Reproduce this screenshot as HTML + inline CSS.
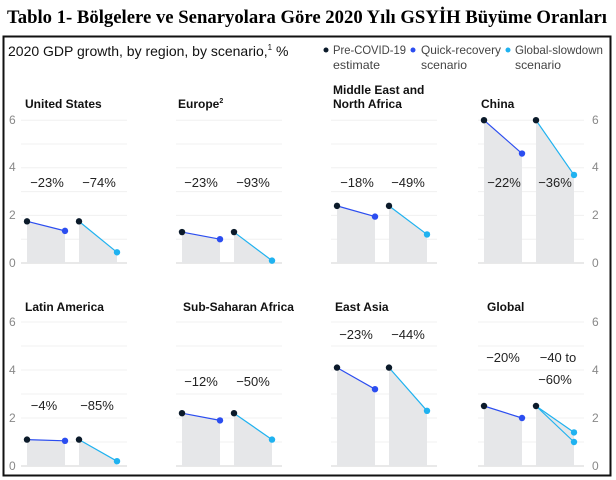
<!DOCTYPE html>
<html><head><meta charset="utf-8"><style>
body{margin:0;background:#fff;width:616px;height:480px;overflow:hidden}
svg{display:block}
.t{font-family:"Liberation Sans",sans-serif;font-size:12px;fill:#111;font-weight:bold}
.p{font-family:"Liberation Sans",sans-serif;font-size:13px;fill:#222}
.a{font-family:"Liberation Sans",sans-serif;font-size:12px;fill:#888}
.l{font-family:"Liberation Sans",sans-serif;font-size:12px;fill:#444}
</style></head><body>
<svg id="s" width="616" height="480" xmlns="http://www.w3.org/2000/svg">
<text x="7" y="23" textLength="600" lengthAdjust="spacingAndGlyphs" style="font-family:'Liberation Serif',serif;font-size:18.5px;font-weight:bold" fill="#000">Tablo 1- Bölgelere ve Senaryolara Göre 2020 Yılı GSYİH Büyüme Oranları</text>
<rect x="3.5" y="36.5" width="607" height="439" fill="none" stroke="#111" stroke-width="2"/>
<g id="g"></g>
<text x="8" y="56" style="font-family:'Liberation Sans',sans-serif;font-size:14px" fill="#111">2020 GDP growth, by region, by scenario,<tspan font-size="8" dy="-6">1</tspan><tspan dy="6"> %</tspan></text>
<circle cx="326" cy="50" r="2.5" fill="#0b1a2a"/><text class="l" x="333" y="54" textLength="73" lengthAdjust="spacingAndGlyphs">Pre-COVID-19</text><text class="l" x="333" y="69" textLength="47" lengthAdjust="spacingAndGlyphs">estimate</text>
<circle cx="413" cy="50" r="2.5" fill="#2b4df0"/><text class="l" x="421" y="54" textLength="80" lengthAdjust="spacingAndGlyphs">Quick-recovery</text><text class="l" x="421" y="69" textLength="46" lengthAdjust="spacingAndGlyphs">scenario</text>
<circle cx="508" cy="50" r="2.5" fill="#1fb2f0"/><text class="l" x="515" y="54" textLength="88" lengthAdjust="spacingAndGlyphs">Global-slowdown</text><text class="l" x="515" y="69" textLength="46" lengthAdjust="spacingAndGlyphs">scenario</text>
<text class="t" x="25" y="108">United States</text>
<text class="t" x="178" y="108">Europe<tspan font-size="7" dy="-5">2</tspan></text>
<text class="t" x="333" y="94">Middle East and</text><text class="t" x="333" y="108">North Africa</text>
<text class="t" x="481" y="108">China</text>
<text class="t" x="25" y="311">Latin America</text>
<text class="t" x="183" y="311">Sub-Saharan Africa</text>
<text class="t" x="335" y="311">East Asia</text>
<text class="t" x="487" y="311">Global</text>
<text class="a" x="9" y="124">6</text><text class="a" x="9" y="171">4</text><text class="a" x="9" y="219">2</text><text class="a" x="9" y="267">0</text>
<text class="a" x="9" y="326">6</text><text class="a" x="9" y="374">4</text><text class="a" x="9" y="422">2</text><text class="a" x="9" y="470">0</text>
<text class="a" x="592" y="124">6</text><text class="a" x="592" y="171">4</text><text class="a" x="592" y="219">2</text><text class="a" x="592" y="267">0</text>
<text class="a" x="592" y="326">6</text><text class="a" x="592" y="374">4</text><text class="a" x="592" y="422">2</text><text class="a" x="592" y="470">0</text>
<g text-anchor="middle">
<text class="p" x="47" y="187">−23%</text><text class="p" x="99" y="187">−74%</text>
<text class="p" x="201" y="187">−23%</text><text class="p" x="253" y="187">−93%</text>
<text class="p" x="357" y="187">−18%</text><text class="p" x="408" y="187">−49%</text>
<text class="p" x="504" y="187">−22%</text><text class="p" x="555" y="187">−36%</text>
<text class="p" x="44" y="410">−4%</text><text class="p" x="97" y="410">−85%</text>
<text class="p" x="201" y="386">−12%</text><text class="p" x="253" y="386">−50%</text>
<text class="p" x="356" y="339">−23%</text><text class="p" x="408" y="339">−44%</text>
<text class="p" x="503" y="362">−20%</text><text class="p" x="558" y="362">−40 to</text><text class="p" x="555" y="384">−60%</text>
</g>
</svg>
<script>
var g=document.getElementById('g'),h='';
var cols=[27,182,337,484];
var panels=[
[0,0,1.75,1.35,[0.45]],[1,0,1.3,1.0,[0.1]],[2,0,2.4,1.95,[1.2]],[3,0,6,4.6,[3.7]],
[0,1,1.1,1.05,[0.2]],[1,1,2.2,1.9,[1.1]],[2,1,4.1,3.2,[2.3]],[3,1,2.5,2.0,[1.4,1.0]]];
var base=[263,466],unit=[23.8,24];
for(var r=0;r<2;r++)for(var c=0;c<4;c++){var x0=cols[c]-6;for(var k=0;k<=6;k++){var y=base[r]-k*unit[r];h+='<line x1="'+x0+'" x2="'+(x0+106)+'" y1="'+y+'" y2="'+y+'" stroke="'+(k==0?'#e2e2e2':'#f0f0f0')+'" stroke-width="'+(k==0?1.5:1)+'"/>';}}
panels.forEach(function(p){var b=cols[p[0]],B=base[p[1]],u=unit[p[1]];
function Y(v){return B-v*u}
function seg(x,v0,vs,cols2){var m=Math.max.apply(null,vs);
h+='<polygon points="'+x+','+B+' '+x+','+Y(v0)+' '+(x+38)+','+Y(m)+' '+(x+38)+','+B+'" fill="#e6e7e9"/>';
vs.forEach(function(v,i){h+='<line x1="'+x+'" y1="'+Y(v0)+'" x2="'+(x+38)+'" y2="'+Y(v)+'" stroke="'+cols2+'" stroke-width="1.2"/>';h+='<circle cx="'+(x+38)+'" cy="'+Y(v)+'" r="3.2" fill="'+cols2+'"/>';});
h+='<circle cx="'+x+'" cy="'+Y(v0)+'" r="3.2" fill="#0b1a2a"/>';}
seg(b,p[2],[p[3]],'#2b4df0');seg(b+52,p[2],p[4],'#1fb2f0');});
g.innerHTML=h;
</script>
</body></html>
